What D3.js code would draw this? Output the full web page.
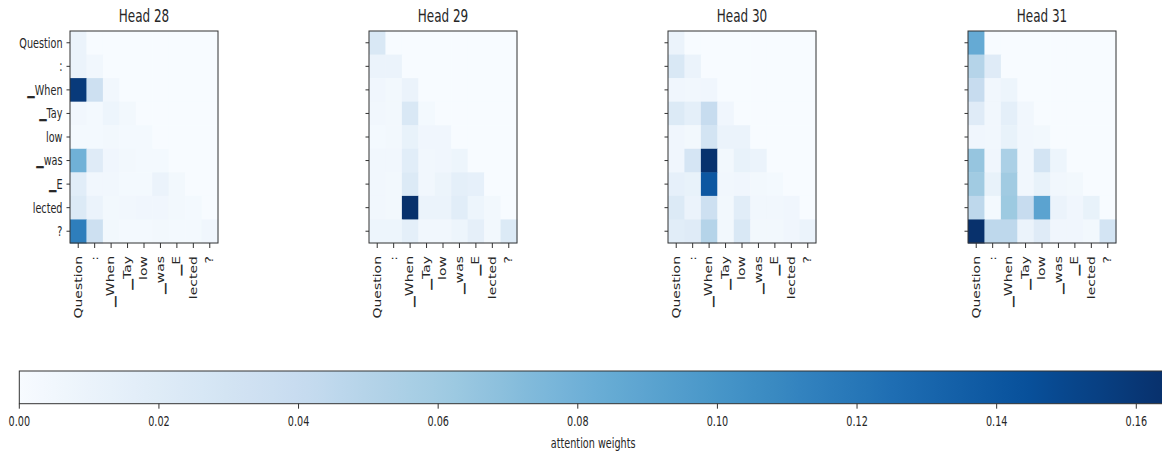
<!DOCTYPE html>
<html>
<head>
<meta charset="utf-8">
<script src="https://cdn.jsdelivr.net/npm/d3@7"></script>
<style>
  body { margin: 0; background: #fff; }
  svg { display: block; font-family: "DejaVu Sans", sans-serif; }
</style>
</head>
<body>
<svg id="chart" width="1162" height="452"></svg>
<script>
// tokens (rows = query, cols = key); "\u2581" is the sentencepiece word marker
var tokens = ["Question", ":", "\u2581When", "\u2581Tay", "low", "\u2581was", "\u2581E", "lected", "?"];
var headNames = ["Head 28", "Head 29", "Head 30", "Head 31"];

// attention weights
var head28 = [
  [0.010, 0, 0, 0, 0, 0, 0, 0, 0],
  [0.010, 0.005, 0, 0, 0, 0, 0, 0, 0],
  [0.158, 0.035, 0.005, 0, 0, 0, 0, 0, 0],
  [0.005, 0.003, 0.008, 0.004, 0, 0, 0, 0, 0],
  [0.003, 0.003, 0.004, 0.003, 0.003, 0, 0, 0, 0],
  [0.080, 0.020, 0.006, 0.004, 0.003, 0.003, 0, 0, 0],
  [0.018, 0.005, 0.005, 0.003, 0.003, 0.010, 0.004, 0, 0],
  [0.022, 0.010, 0.004, 0.005, 0.006, 0.006, 0.004, 0.003, 0],
  [0.115, 0.035, 0.004, 0.003, 0.003, 0.004, 0.003, 0.003, 0.006]
];
var head29 = [
  [0.025, 0, 0, 0, 0, 0, 0, 0, 0],
  [0.010, 0.010, 0, 0, 0, 0, 0, 0, 0],
  [0.006, 0.004, 0.010, 0, 0, 0, 0, 0, 0],
  [0.005, 0.004, 0.025, 0.003, 0, 0, 0, 0, 0],
  [0.003, 0.004, 0.012, 0.006, 0.006, 0, 0, 0, 0],
  [0.005, 0.005, 0.018, 0.005, 0.006, 0.008, 0, 0, 0],
  [0.005, 0.004, 0.022, 0.005, 0.009, 0.016, 0.014, 0, 0],
  [0.005, 0.004, 0.164, 0.010, 0.010, 0.018, 0.008, 0.004, 0],
  [0.008, 0.008, 0.016, 0.005, 0.005, 0.008, 0.015, 0.004, 0.022]
];
var head30 = [
  [0.010, 0, 0, 0, 0, 0, 0, 0, 0],
  [0.025, 0.010, 0, 0, 0, 0, 0, 0, 0],
  [0.006, 0.005, 0.006, 0, 0, 0, 0, 0, 0],
  [0.022, 0.016, 0.040, 0.006, 0, 0, 0, 0, 0],
  [0.006, 0.004, 0.030, 0.010, 0.010, 0, 0, 0, 0],
  [0.006, 0.028, 0.163, 0.004, 0.012, 0.010, 0, 0, 0],
  [0.014, 0.012, 0.140, 0.005, 0.006, 0.004, 0.003, 0, 0],
  [0.022, 0.010, 0.035, 0.004, 0.018, 0.005, 0.005, 0.006, 0],
  [0.018, 0.020, 0.050, 0.004, 0.025, 0.004, 0.004, 0.006, 0.010]
];
var head31 = [
  [0.085, 0, 0, 0, 0, 0, 0, 0, 0],
  [0.050, 0.020, 0, 0, 0, 0, 0, 0, 0],
  [0.040, 0.005, 0.008, 0, 0, 0, 0, 0, 0],
  [0.020, 0.005, 0.016, 0.005, 0, 0, 0, 0, 0],
  [0.006, 0.005, 0.012, 0.005, 0.004, 0, 0, 0, 0],
  [0.065, 0.006, 0.055, 0.005, 0.030, 0.008, 0, 0, 0],
  [0.060, 0.012, 0.060, 0.005, 0.012, 0.005, 0.004, 0, 0],
  [0.045, 0.003, 0.062, 0.040, 0.090, 0.010, 0.006, 0.012, 0],
  [0.164, 0.045, 0.045, 0.010, 0.020, 0.006, 0.006, 0.004, 0.030]
];
var heads = [head28, head29, head30, head31];

var cbTicks = [0, 0.02, 0.04, 0.06, 0.08, 0.10, 0.12, 0.14, 0.16];
var vmax = 0.1644;

// matplotlib "Blues"
var blues = ["#f7fbff", "#deebf7", "#c6dbef", "#9ecae1", "#6baed6", "#4292c6", "#2171b5", "#08519c", "#08306b"];
var color = d3.scaleLinear()
  .domain(blues.map(function(d, i) { return i / 8 * vmax; }))
  .range(blues)
  .interpolate(d3.interpolateRgb)
  .clamp(true);

var svg = d3.select("#chart");

// the figure is squeezed sideways, so text is too
var sx = 0.69;
var tickFont = 14, titleFont = 17.4;

var panelLeft = [70, 369, 668, 968];
var panelTop = 31, w = 148, h = 212;

var x = d3.scaleBand().domain(tokens).range([0, w]);
var y = d3.scaleBand().domain(tokens).range([0, h]);

heads.forEach(function(m, k) {
  var g = svg.append("g").attr("transform", "translate(" + panelLeft[k] + "," + panelTop + ")");

  var cells = [];
  m.forEach(function(row, i) {
    row.forEach(function(v, j) { cells.push({ r: tokens[i], c: tokens[j], v: v }); });
  });

  g.selectAll("rect.cell")
    .data(cells)
    .enter().append("rect")
      .attr("class", "cell")
      .attr("x", function(d) { return x(d.c); })
      .attr("y", function(d) { return y(d.r); })
      .attr("width", x.bandwidth() + 0.5)
      .attr("height", y.bandwidth() + 0.5)
      .attr("fill", function(d) { return color(d.v); });

  g.append("rect")
    .attr("width", w).attr("height", h)
    .attr("fill", "none").attr("stroke", "#333").attr("stroke-width", 1);

  // title
  g.append("text")
    .attr("transform", "translate(" + (w / 2) + ",-9) scale(" + sx + ",1)")
    .attr("text-anchor", "middle")
    .attr("font-size", titleFont)
    .attr("fill", "#262626")
    .text(headNames[k]);

  // y ticks
  var yt = g.selectAll("g.ytick").data(tokens).enter().append("g")
    .attr("transform", function(d) { return "translate(0," + (y(d) + y.bandwidth() / 2) + ")"; });
  yt.append("line").attr("x1", -3.5).attr("x2", 0).attr("stroke", "#333");
  if (k === 0) {
    yt.append("text")
      .attr("transform", "translate(-7.5,0) scale(" + sx + ",1)")
      .attr("text-anchor", "end")
      .attr("dy", "0.35em")
      .attr("font-size", tickFont)
      .attr("fill", "#262626")
      .text(function(d) { return d; });
  }

  // x ticks
  var xt = g.selectAll("g.xtick").data(tokens).enter().append("g")
    .attr("transform", function(d) { return "translate(" + (x(d) + x.bandwidth() / 2) + "," + h + ")"; });
  xt.append("line").attr("y1", 0).attr("y2", 5).attr("stroke", "#333");
  xt.append("text")
    .attr("transform", "translate(0,13) scale(" + sx + ",1) rotate(-90)")
    .attr("text-anchor", "end")
    .attr("dy", "0.35em")
    .attr("font-size", tickFont)
    .attr("fill", "#262626")
    .text(function(d) { return d; });
});

// colorbar
var cbLeft = 19.3, cbRight = 1167, cbTop = 371, cbBottom = 403.7;
var cbScale = d3.scaleLinear().domain([0, vmax]).range([cbLeft, cbRight]);

var grad = svg.append("defs").append("linearGradient")
  .attr("id", "cbgrad").attr("x1", "0%").attr("x2", "100%").attr("y1", "0%").attr("y2", "0%");
grad.selectAll("stop")
  .data(d3.range(0, 1.0001, 0.02))
  .enter().append("stop")
    .attr("offset", function(d) { return (d * 100) + "%"; })
    .attr("stop-color", function(d) { return color(d * vmax); });

svg.append("rect")
  .attr("x", cbLeft).attr("y", cbTop)
  .attr("width", cbRight - cbLeft).attr("height", cbBottom - cbTop)
  .attr("fill", "url(#cbgrad)")
  .attr("stroke", "#333").attr("stroke-width", 1);

var cbt = svg.selectAll("g.cbtick").data(cbTicks).enter().append("g")
  .attr("transform", function(d) { return "translate(" + cbScale(d) + "," + cbBottom + ")"; });
cbt.append("line").attr("y1", 0).attr("y2", 5).attr("stroke", "#333");
cbt.append("text")
  .attr("transform", "translate(0,17.5) scale(" + sx + ",1)")
  .attr("text-anchor", "middle")
  .attr("dy", "0.35em")
  .attr("font-size", tickFont)
  .attr("fill", "#262626")
  .text(function(d) { return d3.format(".2f")(d); });

svg.append("text")
  .attr("transform", "translate(" + ((cbLeft + cbRight) / 2) + ",448) scale(" + sx + ",1)")
  .attr("text-anchor", "middle")
  .attr("font-size", tickFont)
  .attr("fill", "#262626")
  .text("attention weights");
</script>
</body>
</html>
